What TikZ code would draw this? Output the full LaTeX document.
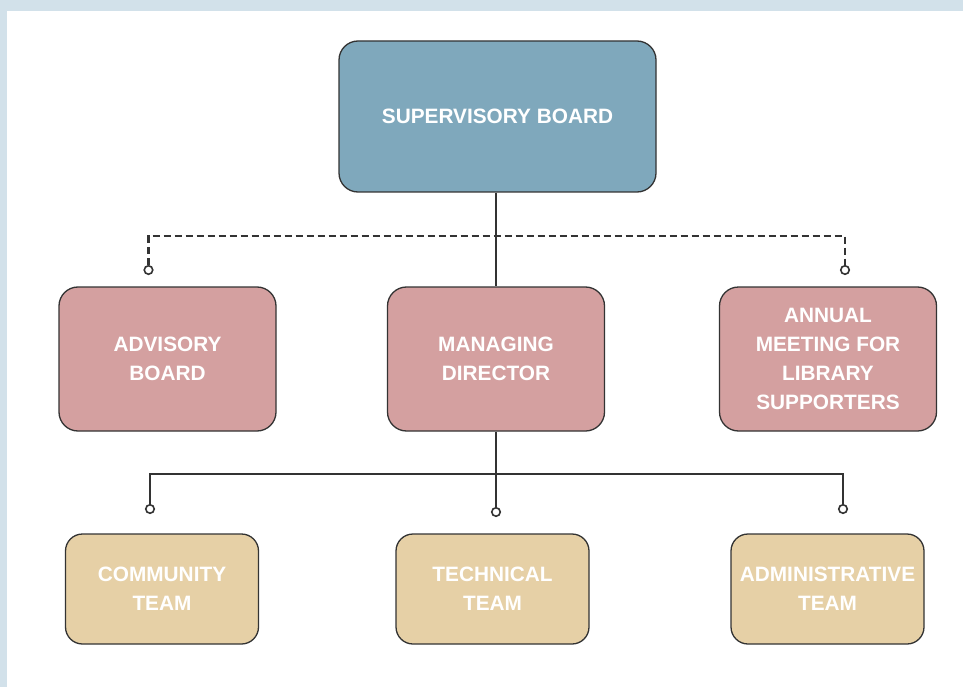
\documentclass[tikz,border=0pt]{standalone}
\usepackage{fontspec}
\setmainfont{Liberation Sans}
\begin{document}
\begin{tikzpicture}[x=1pt,y=-1pt,
  box/.style={draw=black!80,line width=1.3pt,rounded corners=19pt,text=white,
    font=\bfseries\fontsize{20.8}{29}\selectfont,align=center,inner sep=0pt},
  top/.style={box,fill=blueA,minimum width=317pt,minimum height=151pt},
  mid/.style={box,fill=pinkA,minimum width=217pt,minimum height=144pt},
  low/.style={box,fill=tanA,minimum width=193pt,minimum height=110pt,rounded corners=17pt},
  dot/.style={circle,draw=black!80,fill=white,line width=1.6pt,minimum size=8.5pt,inner sep=0pt},
  link/.style={draw=black!80,line width=1.9pt},
  dlink/.style={link,dashed,dash pattern=on 7pt off 4pt,line width=2.1pt}]
\definecolor{blueA}{HTML}{7FA8BC}
\definecolor{pinkA}{HTML}{D4A0A0}
\definecolor{tanA}{HTML}{E6D0A6}
\definecolor{frameA}{HTML}{D2E1EA}
\useasboundingbox (0,0) rectangle (963,687);
\fill[frameA] (0,0) rectangle (963,687);
\fill[white] (7,11) rectangle (963,687);

\node[top] (sb) at (497.5,116.5) {SUPERVISORY BOARD};
\node[mid] (ab) at (167.5,359) {ADVISORY\\BOARD};
\node[mid] (md) at (496,359) {MANAGING\\DIRECTOR};
\node[mid] (am) at (828,359) {ANNUAL\\MEETING FOR\\LIBRARY\\SUPPORTERS};
\node[low] (ct) at (162,589) {COMMUNITY\\TEAM};
\node[low] (tt) at (492.5,589) {TECHNICAL\\TEAM};
\node[low] (at) at (827.5,589) {ADMINISTRATIVE\\TEAM};

\node[dot] (d1) at (148.5,270) {};
\node[dot] (d3) at (845,270) {};
\node[dot] (d4) at (150,509) {};
\node[dot] (d5) at (496,512) {};
\node[dot] (d6) at (843,509) {};
\coordinate (j1) at (496.5,236);
\coordinate (j2) at (496,474);

\draw[dlink] (d1.north) |- (j1) -| (d3.north);
\draw[link] (md.north |- sb.south) -- (md.north);
\draw[link] (d4.north) |- (j2) -| (d6.north);
\draw[link] (md.south) -- (d5.north);
\end{tikzpicture}
\end{document}
